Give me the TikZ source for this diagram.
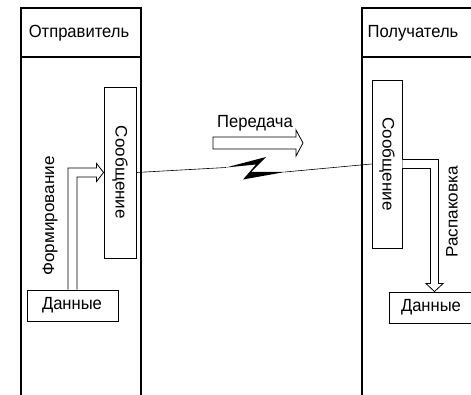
\documentclass[tikz,border=0pt]{standalone}
\usepackage{fontspec}
\setmainfont{Liberation Sans}
\usetikzlibrary{calc}
% scanned lettering is a little taller than it is wide
\newcommand\tallword[1]{\scalebox{1}[1.06]{#1}}
\newcommand\longword[1]{\scalebox{1.03}[1]{#1}}
\tikzset{
  lane/.style={line width=1.1pt},
  textbox/.style={draw, line width=0.9pt, inner sep=0pt, fill=white},
  label/.style={inner sep=0pt, font=\fontsize{16.6}{19}\selectfont},
  hollow/.style={draw, line width=0.8pt, fill=white, line join=miter},
  link/.style={line width=0.6pt},
}
\begin{document}
\begin{tikzpicture}[x=1pt, y={(0pt,-1pt)}]
\useasboundingbox (0,0) rectangle (471,395);

% sender lane
\draw[lane] (21,395) -- (21,8) -- (141,8) -- (141,395);
\draw[lane] (21,57) -- (141,57);
\node[label] (sender) at (79,33) {\tallword{Отправитель}};

% receiver lane
\draw[lane] (362,395) -- (362,8) -- (475,8);
\draw[lane] (362,57) -- (475,57);
\node[label] (receiver) at (413,33) {\tallword{Получатель}};

% message and data boxes
\node[textbox, minimum width=32pt, minimum height=171pt] (msgL) at (120,172.5) {};
\node[label, rotate=-90] at (msgL.center) {\longword{Сообщение}};
\node[textbox, minimum width=91pt, minimum height=31pt] (datL) at (72.5,305.5) {};
\node[label] at (72,305.5) {\tallword{Данные}};

\node[textbox, minimum width=30pt, minimum height=168pt] (msgR) at (387,164) {};
\node[label, rotate=-90] at (msgR.center) {\longword{Сообщение}};
\node[textbox, minimum width=91pt, minimum height=31pt] (datR) at (434.5,307.5) {};
\node[label] at (431,307.5) {\tallword{Данные}};

% building the message: hollow bent arrow from data to message
\path[hollow]
  ($(datL.north)+(-4.5,0)$) |- ($(msgL.west)+(-7,-4.5)$)
  -- ++(0,-4.5) -- (msgL.west) -- ++(-7,9) -- ++(0,-4.5)
  -| ($(datL.north)+(4.5,0)$);
\node[label, rotate=90] (build) at (50,216) {\longword{Формирование}};

% unpacking: hollow bent arrow from message to data
\path[hollow]
  ($(msgR.east)+(0,-4.5)$) -| ($(datR.north)+(4,-8)$)
  -- ++(4.5,0) -- (datR.north) -- ++(-8.5,-8) -- ++(4.5,0)
  |- ($(msgR.east)+(0,4.5)$);
\node[label, rotate=90] (unpack) at (452,212) {\longword{Распаковка}};

% transfer arrow with its caption
\node[label] (send) at (255,123) {\tallword{Передача}};
\path[hollow] (213,137) -- (296,137) -- (296,130) -- (303,143)
  -- (296,156) -- (296,149) -- (213,149) -- cycle;

% channel with a lightning break
\coordinate (zin) at (226,167.5);
\coordinate (zout) at (285,172);
\draw[link] (msgL.east) -- (zin);
\draw[link] (zout) -- (msgR.west);
\fill (zin) -- (266,157) -- (251,172) -- (zout) -- (243,179.5)
  -- (256,164.5) -- cycle;
\end{tikzpicture}
\end{document}
